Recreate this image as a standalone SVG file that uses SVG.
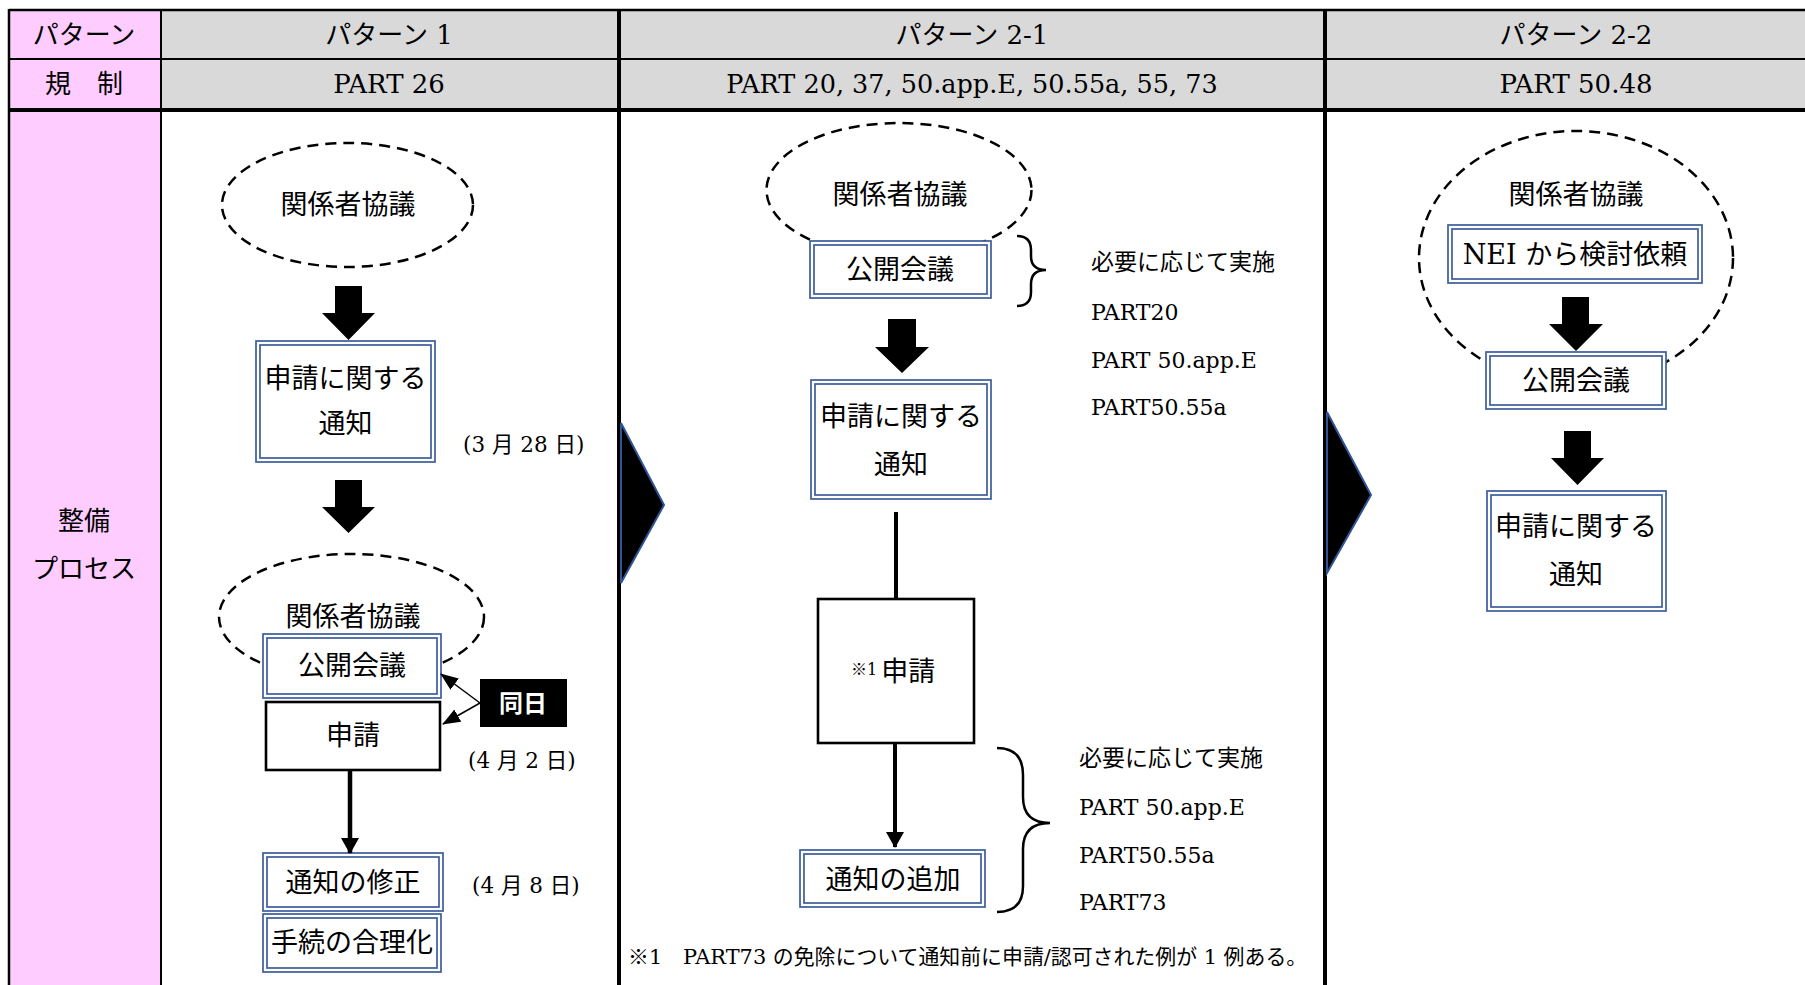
<svg xmlns="http://www.w3.org/2000/svg" width="1805" height="985" viewBox="0 0 1805 985">
<defs>
<style>
.jp{font-family:"Noto Sans CJK JP","Noto Sans CJK SC",sans-serif;fill:#000}
.mx{font-family:"DejaVu Serif","Noto Sans CJK JP",serif;fill:#000}
.n27{font-size:27px}
.h26{font-size:26px}
.s23{font-size:23px}
.s22{font-size:22px}
.d21{font-size:21.5px}
.mid{text-anchor:middle}
.db{fill:#fff;stroke:#3B5C9B;stroke-width:1.7}
.dbi{fill:none;stroke:#3B5C9B;stroke-width:1.7}
.sb{fill:#fff;stroke:#000;stroke-width:2.6}
.dash{fill:#fff;stroke:#000;stroke-width:2.5;stroke-dasharray:11 7}
.blk{fill:#000}
.chev{fill:#000;stroke:#2F5597;stroke-width:2}
.brace{fill:none;stroke:#000;stroke-width:2.5}
.grid{stroke:#000;fill:none}
</style>
<marker id="ahT" markerUnits="userSpaceOnUse" viewBox="0 0 16 18" markerWidth="16" markerHeight="18" refX="15" refY="9" orient="auto"><path d="M0,0 L16,9 L0,18 z" fill="#000"/></marker>
<marker id="ahS" markerUnits="userSpaceOnUse" viewBox="0 0 18 14" markerWidth="18" markerHeight="14" refX="17" refY="7" orient="auto"><path d="M0,0 L18,7 L0,14 z" fill="#000"/></marker>
</defs>

<g id="table">
<rect x="0" y="0" width="1805" height="985" fill="#fff"/>
<rect x="9" y="10" width="152" height="975" fill="#FFCCFF"/>
<rect x="161" y="10" width="1644" height="100" fill="#D9D9D9"/>
<line class="grid" x1="9" y1="10" x2="1805" y2="10" stroke-width="2.5"/>
<line class="grid" x1="9" y1="59" x2="1805" y2="59" stroke-width="2"/>
<line class="grid" x1="9" y1="110" x2="1805" y2="110" stroke-width="4"/>
<line class="grid" x1="9" y1="9" x2="9" y2="985" stroke-width="2.5"/>
<line class="grid" x1="161" y1="10" x2="161" y2="985" stroke-width="2"/>
<line class="grid" x1="619" y1="10" x2="619" y2="985" stroke-width="4"/>
<line class="grid" x1="1325" y1="10" x2="1325" y2="985" stroke-width="4"/>
<text class="jp h26 mid" x="84" y="44">パターン</text>
<text class="jp h26 mid" x="84" y="93">規　制</text>
<text class="jp h26 mid" x="84" y="530">整備</text>
<text class="jp h26 mid" x="84" y="578">プロセス</text>
<text class="mx h26 mid" x="389" y="44">パターン 1</text>
<text class="mx h26 mid" x="972" y="44">パターン 2-1</text>
<text class="mx h26 mid" x="1576" y="44">パターン 2-2</text>
<text class="mx h26 mid" x="389" y="93">PART 26</text>
<text class="mx mid" style="font-size:25.5px" x="972" y="93">PART 20, 37, 50.app.E, 50.55a, 55, 73</text>
<text class="mx h26 mid" x="1576" y="93">PART 50.48</text>
</g>

<g id="p1-ellipse1">
<ellipse class="dash" cx="347.5" cy="205" rx="125.5" ry="62"/>
<text class="jp n27 mid" x="348" y="214">関係者協議</text>
</g>
<g id="p1-notice">
<rect class="db" x="256" y="341" width="179" height="121"/>
<rect class="dbi" x="260" y="345" width="171" height="113"/>
<text class="jp n27 mid" x="345.5" y="388">申請に関する</text>
<text class="jp n27 mid" x="345.5" y="433">通知</text>
</g>
<g id="p1-date1"><text class="mx d21" x="463" y="452">(3 月 28 日)</text></g>
<g id="p1-ellipse2">
<ellipse class="dash" cx="351.5" cy="617" rx="132.5" ry="63"/>
<text class="jp n27 mid" x="353" y="626">関係者協議</text>
</g>
<g id="p1-public">
<rect class="db" x="263" y="634" width="178" height="64"/>
<rect class="dbi" x="267" y="638" width="170" height="56"/>
<text class="jp n27 mid" x="352" y="675">公開会議</text>
</g>
<g id="p1-apply">
<rect class="sb" x="266" y="702" width="174" height="68"/>
<text class="jp n27 mid" x="353" y="745">申請</text>
</g>
<g id="p1-sameday">
<rect x="480" y="679" width="87" height="48" fill="#000"/>
<text class="jp mid" x="523" y="712" style="font-size:24px;font-weight:bold;fill:#fff">同日</text>
</g>
<g id="p1-date2"><text class="mx d21" x="468" y="768">(4 月 2 日)</text></g>
<g id="p1-amend">
<rect class="db" x="263" y="853" width="180" height="58"/>
<rect class="dbi" x="267" y="857" width="172" height="50"/>
<text class="jp n27 mid" x="353" y="892">通知の修正</text>
</g>
<g id="p1-date3"><text class="mx d21" x="472" y="893">(4 月 8 日)</text></g>
<g id="p1-rational">
<rect class="db" x="263" y="914" width="178" height="58"/>
<rect class="dbi" x="267" y="918" width="170" height="50"/>
<text class="jp n27 mid" x="352" y="952">手続の合理化</text>
</g>

<g id="chevron1"><polygon class="chev" points="621,423 664,505 621,583"/></g>
<g id="chevron2"><polygon class="chev" points="1327,412 1371,495 1327,573"/></g>

<g id="p21-ellipse">
<ellipse class="dash" cx="899" cy="190" rx="132.5" ry="67"/>
<text class="jp n27 mid" x="900" y="204">関係者協議</text>
</g>
<g id="p21-public">
<rect class="db" x="810" y="241" width="181" height="57"/>
<rect class="dbi" x="814" y="245" width="173" height="49"/>
<text class="jp n27 mid" x="900" y="279">公開会議</text>
</g>
<g id="p21-list1">
<text class="jp s23" x="1091" y="270">必要に応じて実施</text>
<text class="mx s22" x="1091" y="320">PART20</text>
<text class="mx s22" x="1091" y="368">PART 50.app.E</text>
<text class="mx s22" x="1091" y="415">PART50.55a</text>
</g>
<g id="p21-notice">
<rect class="db" x="811" y="380" width="180" height="119"/>
<rect class="dbi" x="815" y="384" width="172" height="111"/>
<text class="jp n27 mid" x="901" y="426">申請に関する</text>
<text class="jp n27 mid" x="901" y="474">通知</text>
</g>
<g id="p21-apply">
<rect class="sb" x="818" y="599" width="156" height="144"/>
<text class="mx" x="851" y="681"><tspan style="font-size:16px" dy="-6">※1</tspan><tspan class="n27" dx="4" dy="6">申請</tspan></text>
</g>
<g id="p21-add">
<rect class="db" x="800" y="850" width="185" height="57"/>
<rect class="dbi" x="804" y="854" width="177" height="49"/>
<text class="jp n27 mid" x="893" y="889">通知の追加</text>
</g>
<g id="p21-list2">
<text class="jp s23" x="1079" y="766">必要に応じて実施</text>
<text class="mx s22" x="1079" y="815">PART 50.app.E</text>
<text class="mx s22" x="1079" y="863">PART50.55a</text>
<text class="mx s22" x="1079" y="910">PART73</text>
</g>
<g id="p21-footnote">
<text class="mx" style="font-size:20.9px" x="628" y="964">※1　PART73 の免除について通知前に申請/認可された例が 1 例ある。</text>
</g>

<g id="p22-ellipse">
<ellipse class="dash" cx="1576" cy="258" rx="157" ry="127"/>
<text class="jp n27 mid" x="1576" y="204">関係者協議</text>
</g>
<g id="p22-nei">
<rect class="db" x="1448" y="225" width="254" height="58"/>
<rect class="dbi" x="1452" y="229" width="246" height="50"/>
<text class="mx mid" style="font-size:27px" x="1575" y="264">NEI から検討依頼</text>
</g>
<g id="p22-public">
<rect class="db" x="1486" y="352" width="180" height="57"/>
<rect class="dbi" x="1490" y="356" width="172" height="49"/>
<text class="jp n27 mid" x="1576" y="390">公開会議</text>
</g>
<g id="p22-notice">
<rect class="db" x="1487" y="491" width="179" height="120"/>
<rect class="dbi" x="1491" y="495" width="171" height="112"/>
<text class="jp n27 mid" x="1576" y="536">申請に関する</text>
<text class="jp n27 mid" x="1576" y="584">通知</text>
</g>

<g id="connectors">
<polygon class="blk" points="335,286 362,286 362,313 375,313 348.5,340 322,313 335,313"/>
<polygon class="blk" points="335,480 362,480 362,507 375,507 348.5,533 322,507 335,507"/>
<line x1="480" y1="703" x2="441" y2="674" stroke="#000" stroke-width="1.5" marker-end="url(#ahS)"/>
<line x1="480" y1="703" x2="443" y2="724" stroke="#000" stroke-width="1.5" marker-end="url(#ahS)"/>
<line x1="350" y1="770" x2="350" y2="853" stroke="#000" stroke-width="4.5" marker-end="url(#ahT)"/>
<polygon class="blk" points="888,319 916,319 916,347 929,347 902,373 875,347 888,347"/>
<line x1="896" y1="512" x2="896" y2="599" stroke="#000" stroke-width="4"/>
<line x1="895" y1="743" x2="895" y2="847" stroke="#000" stroke-width="4" marker-end="url(#ahT)"/>
<path class="brace" d="M1017,236 Q1031,236 1031,250 L1031,256 Q1031,270 1046,270 Q1031,270 1031,284 L1031,292 Q1031,306 1017,306"/>
<path class="brace" d="M997,748 Q1023,748 1023,775 L1023,797 Q1023,823 1050,823 Q1023,823 1023,849 L1023,886 Q1023,912 997,912"/>
<polygon class="blk" points="1562,297 1589,297 1589,324 1603,324 1576,351 1549,324 1562,324"/>
<polygon class="blk" points="1564,431 1591,431 1591,458 1604,458 1577.5,485 1551,458 1564,458"/>
</g>
</svg>
